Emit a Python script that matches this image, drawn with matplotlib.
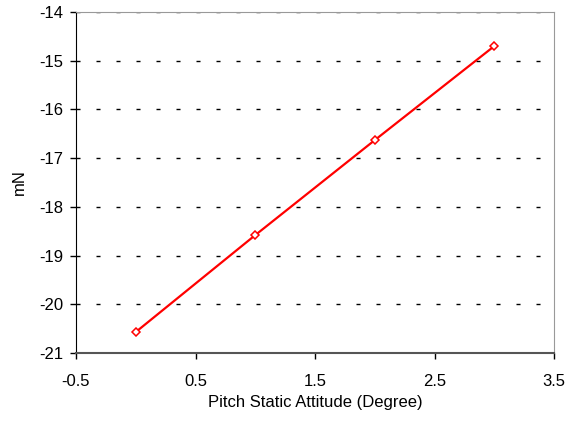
import matplotlib.pyplot as plt

plt.rcParams['font.family'] = ['Liberation Sans', 'DejaVu Sans']

# --- Data ---
attitude = [0, 1, 2, 3]
force_mN = [-20.57, -18.58, -16.63, -14.70]

x_ticks = [-0.5, 0.5, 1.5, 2.5, 3.5]
y_ticks = [-21, -20, -19, -18, -17, -16, -15, -14]

fig = plt.figure(figsize=(5.68, 4.23), dpi=100)
ax = fig.add_axes([0.1338, 0.1655, 0.8416, 0.8061])

# dashed horizontal grid
for yv in y_ticks[1:]:
    ax.axhline(yv, color='black', lw=1, linestyle=(0, (2.9, 11.5)), zorder=1)

ax.plot(attitude, force_mN, color='#ff0000', lw=1.6, marker='D', markersize=4.5,
        markerfacecolor='white', markeredgecolor='#ff0000', markeredgewidth=1.1, zorder=3)

ax.set_xlim(-0.5, 3.5)
ax.set_ylim(-21, -14)
ax.set_xticks(x_ticks)
ax.set_xticklabels(['-0.5', '0.5', '1.5', '2.5', '3.5'])
ax.set_yticks(y_ticks)
ax.set_yticklabels([str(v) for v in y_ticks])
ax.tick_params(axis='both', labelsize=12, length=4.3, width=1, color='black', direction='out')
ax.tick_params(axis='x', pad=11)
ax.tick_params(axis='y', pad=5)

ax.spines['left'].set_color('black')
ax.spines['bottom'].set_color('#555555')
ax.spines['bottom'].set_linewidth(1.5)
ax.spines['top'].set_color('#999999')
ax.spines['right'].set_color('#999999')

ax.set_xlabel('Pitch Static Attitude (Degree)', fontsize=12, labelpad=4)
ax.set_ylabel('mN', fontsize=12, labelpad=9)

plt.savefig('out.png', dpi=100)
